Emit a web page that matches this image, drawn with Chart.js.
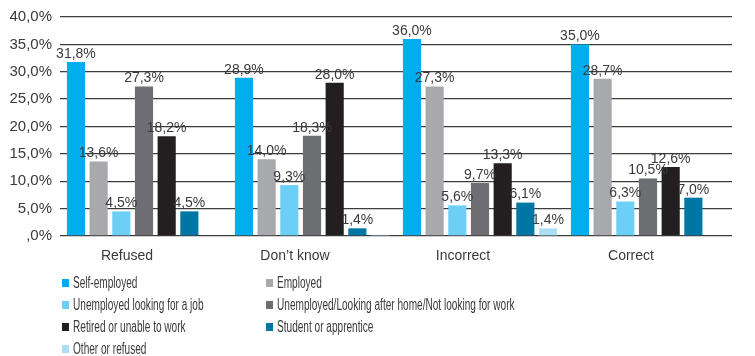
<!DOCTYPE html>
<html>
<head>
<meta charset="utf-8">
<script src="https://cdn.jsdelivr.net/npm/chart.js@4/dist/chart.umd.min.js"></script>
<style>
  html, body { margin: 0; padding: 0; background: #fff; }
  #wrap { position: relative; width: 755px; height: 356px; }
  #chart { position: absolute; left: 0; top: 0; }
  #legend {
    position: absolute; left: 62px; top: 272px;
    display: grid; grid-template-columns: 204px auto; grid-auto-rows: 22px;
    font-family: "Liberation Sans", sans-serif;
    font-size: 16px; color: #3a3a3a;
  }
  #legend .item { display: flex; align-items: center; white-space: nowrap; }
  #legend .box { width: 7px; height: 8px; margin-right: 4px; flex: none; }
  #legend .txt { display: inline-block; transform: scaleX(0.63); transform-origin: left center; }
</style>
</head>
<body>
<div id="wrap">
  <canvas id="chart" width="755" height="356"></canvas>
  <div id="legend"></div>
</div>
<script>
const categories = ["Refused", "Don\u2019t know", "Incorrect", "Correct"];

const seriesNames = [
  "Self-employed",
  "Employed",
  "Unemployed looking for a job",
  "Unemployed/Looking after home/Not looking for work",
  "Retired or unable to work",
  "Student or apprentice",
  "Other or refused"
];

const selfEmployed      = [31.8, 28.9, 36.0, 35.0];
const employed          = [13.6, 14.0, 27.3, 28.7];
const unemployedLooking = [4.5, 9.3, 5.6, 6.3];
const unemployedHome    = [27.3, 18.3, 9.7, 10.5];
const retired           = [18.2, 28.0, 13.3, 12.6];
const student           = [4.5, 1.4, 6.1, 7.0];
const otherRefused      = [null, 0.2, 1.4, null];

const yTicks = [0, 5, 10, 15, 20, 25, 30, 35, 40];

const seriesColors = ["#00aeef", "#a7a9ac", "#6dcff6", "#6d6e71", "#231f20", "#0076a3", "#abdff5"];
const seriesValues = [selfEmployed, employed, unemployedLooking, unemployedHome, retired, student, otherRefused];

const fmt = v => {
  const s = v.toFixed(1).replace(".", ",");
  return (s.startsWith("0,") ? s.slice(1) : s) + "%";
};

// Value labels above each bar; shares under 1% stay unlabelled
const barLabels = {
  id: "barLabels",
  afterDatasetsDraw(chart) {
    const ctx = chart.ctx;
    ctx.save();
    ctx.font = "14px 'Liberation Sans', sans-serif";
    ctx.fillStyle = "#3a3a3a";
    ctx.textAlign = "center";
    ctx.textBaseline = "bottom";
    chart.data.datasets.forEach((ds, i) => {
      chart.getDatasetMeta(i).data.forEach((bar, j) => {
        const v = ds.data[j];
        if (v == null || v < 1) return;
        ctx.fillText(fmt(v), bar.x, bar.y - 1);
      });
    });
    ctx.restore();
  }
};

const chart = new Chart(document.getElementById("chart"), {
  type: "bar",
  data: {
    labels: categories,
    datasets: seriesNames.map((name, i) => ({
      label: name,
      data: seriesValues[i],
      backgroundColor: seriesColors[i],
      barPercentage: 0.8,
      categoryPercentage: 0.945
    }))
  },
  options: {
    responsive: false,
    animation: false,
    layout: { padding: { top: 12, right: 23, bottom: 96, left: 0 } },
    plugins: {
      legend: { display: false },
      tooltip: { enabled: false }
    },
    scales: {
      x: {
        grid: { display: false },
        border: { display: false },
        ticks: {
          color: "#3a3a3a",
          font: { family: "'Liberation Sans', sans-serif", size: 14 },
          padding: 4,
          labelOffset: -17
        },
        afterFit: s => { s.height = 24; }
      },
      y: {
        min: 0, max: 40,
        afterBuildTicks: s => { s.ticks = yTicks.map(v => ({ value: v })); },
        grid: { color: "#3c3c3c", lineWidth: 1.3, drawTicks: false },
        border: { display: false },
        ticks: {
          color: "#3a3a3a",
          font: { family: "'Liberation Sans', sans-serif", size: 15 },
          padding: 8,
          callback: v => fmt(v)
        },
        afterFit: s => { s.width = 60; }
      }
    }
  },
  plugins: [barLabels]
});

// Two-column legend built from the chart's datasets
const legendEl = document.getElementById("legend");
chart.options.plugins.legend.labels.generateLabels(chart).forEach(item => {
  const row = document.createElement("div");
  row.className = "item";
  const box = document.createElement("span");
  box.className = "box";
  box.style.background = item.fillStyle;
  const txt = document.createElement("span");
  txt.className = "txt";
  txt.textContent = item.text;
  row.appendChild(box);
  row.appendChild(txt);
  legendEl.appendChild(row);
});
</script>
</body>
</html>
